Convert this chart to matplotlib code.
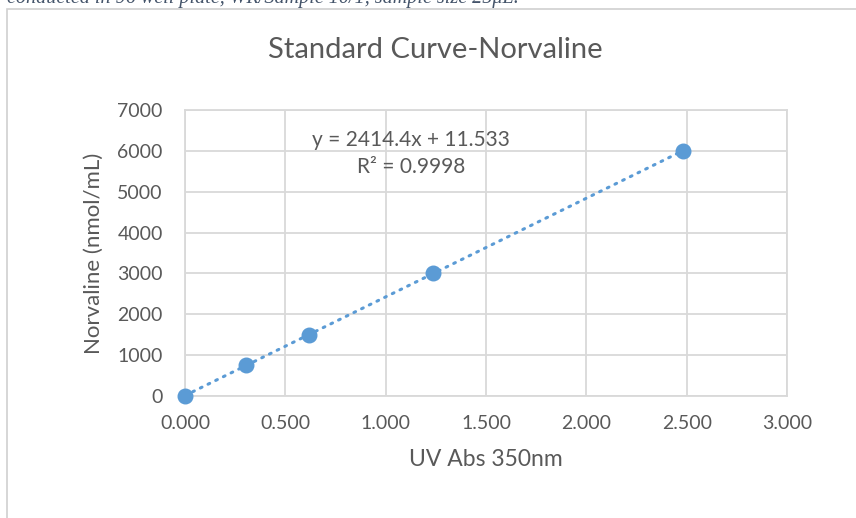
import numpy as np
import matplotlib
matplotlib.use("Agg")
import matplotlib.pyplot as plt
from matplotlib.patches import Rectangle

# standard points
abs350 = [0.0, 0.306, 0.616, 1.238, 2.480]
norvaline = [0, 750, 1500, 3000, 6000]

slope = 2414.4
intercept = 11.533
r2 = 0.9998

xticks = [0.0, 0.5, 1.0, 1.5, 2.0, 2.5, 3.0]
yticks = [0, 1000, 2000, 3000, 4000, 5000, 6000, 7000]

plt.rcParams['font.family'] = ['Lato', 'DejaVu Sans']
txt = '#595959'
grid = '#d9d9d9'
blue = '#5b9bd5'

fig = plt.figure(figsize=(8.56, 5.18), dpi=100)

# cut-off caption line from the document above the chart
fig.text(0.008, 1.022, 'conducted in 96 well plate, WR/Sample 10/1, sample size 25\u03bcL.',
         family='Liberation Serif', style='italic', fontsize=14.5, color='#44546a',
         ha='left', va='top')

# chart frame
fig.patches.append(Rectangle((7 / 856, -0.1), 1.0, 1 - 9 / 518 + 0.1,
                             transform=fig.transFigure, fill=False,
                             edgecolor='#d0d0d0', lw=1.2))

# title is centred on the chart frame, not the plot area
fig.text(435 / 856, 1 - 50 / 518, 'Standard Curve-Norvaline', fontsize=21,
         color=txt, ha='center', va='center')

ax = fig.add_axes([185 / 856, 1 - 396 / 518, 602 / 856, 286 / 518])

# trend line
xt = np.array([0.0, abs350[-1]])
ax.plot(xt, slope * xt + intercept, color=blue, lw=2.2, ls=(0, (0.6, 2.2)),
        dash_capstyle='round', zorder=3)
ax.scatter(abs350, norvaline, s=110, color=blue, zorder=4, clip_on=False)

ax.set_xlim(0, 3)
ax.set_ylim(0, 7000)
ax.set_xticks(xticks)
ax.set_yticks(yticks)
ax.set_xticklabels(['%.3f' % v for v in xticks])
ax.grid(True, color=grid, lw=1.3)
ax.set_axisbelow(True)
for s in ax.spines.values():
    s.set_color(grid)
    s.set_linewidth(1.3)
ax.tick_params(length=0, labelsize=14, labelcolor=txt)
ax.tick_params(axis='y', pad=16)
ax.tick_params(axis='x', pad=14)

ax.text(0.375, 0.848, 'y = %.1fx + %.3f\nR\u00b2 = %.4f' % (slope, intercept, r2),
        transform=ax.transAxes, ha='center', va='center', fontsize=15,
        color=txt, linespacing=1.4)

ax.set_xlabel('UV Abs 350nm', fontsize=16.5, color=txt, labelpad=12)
ax.set_ylabel('Norvaline (nmol/mL)', fontsize=16, color=txt, labelpad=10)

fig.savefig('out.png', dpi=100)
